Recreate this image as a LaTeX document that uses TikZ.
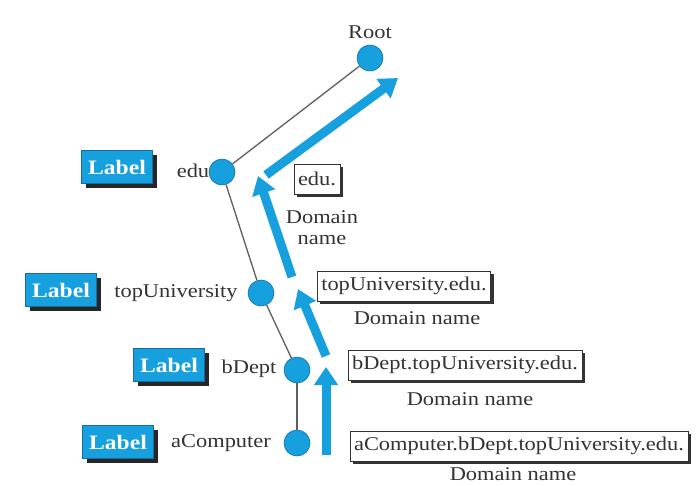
\documentclass[tikz,border=0pt]{standalone}
\usepackage{fontspec}
\setmainfont[FakeStretch=1.15]{Liberation Serif}
\usetikzlibrary{arrows.meta,shadows}

\definecolor{dnsblue}{RGB}{22,160,222}
\definecolor{dnsdark}{RGB}{20,110,165}
\definecolor{treeline}{RGB}{95,95,95}

\tikzset{
  txt/.style={font=\fontsize{19.5}{22}\selectfont, text=black!80, inner sep=0pt},
  treenode/.style={circle, minimum size=26pt, inner sep=0pt, fill=dnsblue, draw=dnsdark, line width=0.6pt},
  treeedge/.style={draw=treeline, line width=1.3pt},
  labelbox/.style={rectangle, minimum width=71pt, minimum height=33pt, inner sep=0pt,
    fill=dnsblue, draw=dnsdark, line width=0.6pt,
    font=\fontsize{20.5}{22}\selectfont\bfseries, text=white,
    drop shadow={shadow xshift=4pt, shadow yshift=-4pt, fill=black!85, opacity=1}},
  namebox/.style={rectangle, minimum height=30pt, inner xsep=4pt, inner ysep=0pt,
    fill=white, draw=black!80, line width=0.8pt, text=black!80,
    font=\fontsize{19.5}{22}\selectfont,
    drop shadow={shadow xshift=3pt, shadow yshift=-3pt, fill=black!80, opacity=1}},
  upflow/.style={draw=dnsblue, line width=9pt,
    -{Triangle[length=18pt, width=23pt]}}
}

\begin{document}
\begin{tikzpicture}[x=1pt, y=-1pt]
  \useasboundingbox[fill=white] (0,0) rectangle (698,485);

  % tree nodes
  \node[treenode] (root) at (370,58) {};
  \node[treenode] (edu)  at (222,172) {};
  \node[treenode] (top)  at (261,293) {};
  \node[treenode] (bdep) at (297,370) {};
  \node[treenode] (acmp) at (297,443) {};

  % tree edges
  \draw[treeedge] (root) -- (edu);
  \draw[treeedge] (edu)  -- (top);
  \draw[treeedge] (top)  -- (bdep);
  \draw[treeedge] (bdep) -- (acmp);

  % node names
  \node[txt] (rootname) at (370,32) {Root};
  \node[txt] (eduname)  at (193,171) {edu};
  \node[txt] (topname)  at (176,293) {topUniversity};
  \node[txt] (bdepname) at (249,369) {bDept};
  \node[txt] (acmpname) at (221,443) {aComputer};

  % label tags
  \node[labelbox] (edulab)  at (117,167) {Label};
  \node[labelbox] (toplab)  at (61,290)  {Label};
  \node[labelbox] (bdeplab) at (169,365) {Label};
  \node[labelbox] (acmplab) at (118,442) {Label};

  % domain names
  \node[namebox] (edudn)  at (317,179) {edu.};
  \node[namebox] (topdn)  at (404,286) {topUniversity.edu.};
  \node[namebox] (bdepdn) at (465,365) {bDept.topUniversity.edu.};
  \node[namebox] (acmpdn) at (519,446) {aComputer.bDept.topUniversity.edu.};

  \node[txt, align=center] (edudncap) at (322,228) {Domain\\[-1pt]name};
  \node[txt] (topdncap)  at (417,318) {Domain name};
  \node[txt] (bdepdncap) at (470,399) {Domain name};
  \node[txt] (acmpdncap) at (513,474) {Domain name};

  % upward reading arrows
  \coordinate (f1s) at (326,455); \coordinate (f1e) at (326,367);
  \coordinate (f2s) at (326,356); \coordinate (f2e) at (298,289);
  \coordinate (f3s) at (292,277); \coordinate (f3e) at (258,176);
  \coordinate (f4s) at (266,175); \coordinate (f4e) at (398,78);
  \draw[upflow] (f1s) -- (f1e);
  \draw[upflow] (f2s) -- (f2e);
  \draw[upflow] (f3s) -- (f3e);
  \draw[upflow] (f4s) -- (f4e);
\end{tikzpicture}
\end{document}
